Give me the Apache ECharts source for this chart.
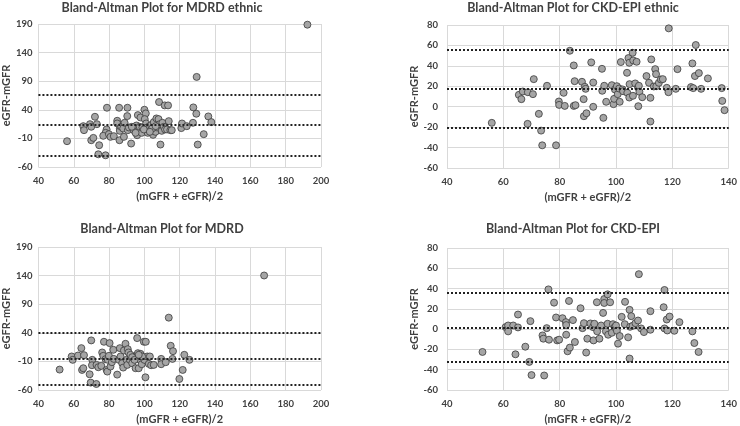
<!DOCTYPE html>
<html>
<head>
<meta charset="utf-8">
<script src="https://cdn.jsdelivr.net/npm/echarts@6/dist/echarts.min.js"></script>
<style>
  html, body { margin: 0; padding: 0; background: #fff; }
  #main { width: 740px; height: 426px; }
</style>
</head>
<body>
<div id="main"></div>
<script>
// panel titles
var titles = [
  'Bland-Altman Plot for MDRD ethnic',
  'Bland-Altman Plot for CKD-EPI ethnic',
  'Bland-Altman Plot for MDRD',
  'Bland-Altman Plot for CKD-EPI'
];

// [mean of mGFR and eGFR, eGFR - mGFR]
var mdrdEthnic = [
  [56.2, -14.9], [65.4, 11.4], [65.8, 4.4], [69.2, 14.9], [69.9, 10.3], [72.0, 27.8], [73.1, 14.9],
  [69.9, -13.2], [71.1, -9.1], [74.4, -21.9], [73.9, -37.8], [78.0, -39.5], [78.6, 5.6], [78.0, -0.3],
  [76.7, -5.5], [78.8, 43.6], [79.9, -2.6], [80.8, -7.3], [82.7, -6.1], [84.6, 20.8], [84.6, 16.1],
  [85.7, 43.6], [86.1, 7.3], [86.1, 3.2], [85.9, -13.2], [86.9, 10.3], [88.0, 7.3], [88.8, 17.3],
  [88.4, -7.3], [90.3, 29.0], [90.4, 43.6], [90.6, 4.4], [91.2, 9.1], [92.5, -19.0], [94.0, 4.4],
  [95.5, 12.6], [95.9, -4.4], [96.3, 30.7], [97.4, 10.3], [97.8, 26.6], [98.5, -0.3], [98.9, 9.1],
  [100.0, 40.1], [100.8, 33.7], [100.2, 23.7], [101.0, 16.1], [101.6, 9.1], [101.9, -0.3], [102.5, 5.6],
  [102.9, 11.4], [103.8, 13.2], [104.9, -3.8], [105.3, 18.5], [105.7, 5.6], [106.3, 1.5], [106.8, 24.9],
  [107.2, 9.1], [108.0, 23.7], [108.3, 53.6], [108.7, 14.9], [109.1, -20.8], [109.8, 3.2], [110.2, 17.3],
  [111.0, 10.3], [111.5, 47.7], [111.7, 5.6], [112.8, 5.6], [113.4, 47.7], [113.8, 20.2], [114.7, 4.4],
  [115.5, 4.4], [120.9, 8.0], [121.3, 16.1], [124.0, 11.4], [127.5, 17.3], [127.7, 44.2], [129.4, 33.1],
  [133.6, -2.6], [130.2, -20.8], [136.2, 28.4], [137.9, 18.5], [129.6, 97.5], [192.3, 188.8],
  [92.9, 10.3], [104.4, 7.3], [99.7, 5.6], [106.4, 11.4], [95.0, -0.3], [103.1, 1.5]
];
var mdrdEthnicLines = [67, 13.2, -40.7];

var ckdEthnic = [
  [55.9, -15.8], [65.5, 11.6], [66.4, 7.4], [66.9, 14.9], [68.7, 14.2], [68.6, -16.8], [70.5, 12.3],
  [70.8, 27.0], [72.6, -7.0], [73.4, -23.4], [73.8, -37.8], [75.5, 20.5], [78.7, -37.8], [79.7, 5.1],
  [79.8, 1.8], [81.4, 13.6], [81.8, 0.8], [83.6, 54.8], [85.0, 40.4], [85.3, 25.0], [85.0, 0.8],
  [85.6, 1.5], [87.9, 24.4], [88.5, 7.4], [88.6, -9.3], [88.9, 19.5], [89.2, 17.5], [89.5, -6.4],
  [91.2, 43.4], [91.9, 23.7], [91.9, -0.1], [95.0, 37.1], [95.1, 15.6], [95.5, -10.9], [95.8, 20.5],
  [96.5, 4.8], [98.5, 21.1], [99.1, 2.5], [99.3, 7.7], [99.6, 16.9], [100.3, 20.1], [100.6, 12.3],
  [101.1, 17.8], [101.3, 4.8], [101.7, 43.7], [102.3, 16.9], [102.5, 15.2], [103.9, 33.2], [104.0, 13.6],
  [104.4, 47.6], [104.7, 43.0], [104.7, 9.0], [104.8, 22.1], [105.9, 52.8], [106.1, 45.3], [106.0, 10.7],
  [106.8, 22.8], [107.3, 44.0], [107.8, 18.8], [107.9, 0.5], [108.1, 20.5], [108.3, 14.6], [109.3, 9.3],
  [110.8, 30.0], [111.7, 23.4], [112.2, 8.7], [112.2, -14.5], [112.5, 46.3], [113.4, 19.8], [113.9, 36.8],
  [114.2, 31.9], [114.3, 20.1], [115.2, 23.4], [115.9, 26.7], [116.6, 27.0], [118.0, 18.5], [118.6, 14.2],
  [118.7, 76.7], [121.2, 17.5], [121.8, 36.8], [126.6, 19.2], [127.1, 42.4], [127.4, 18.2], [128.0, 30.0],
  [128.3, 60.4], [129.4, 32.9], [130.2, 17.5], [132.6, 27.7], [137.5, 18.2], [137.7, 5.7], [138.5, -3.4]
];
var ckdEthnicLines = [55.8, 17.5, -20.7];

var mdrd = [
  [52.0, -24.3], [58.8, -1.4], [59.4, -7.3], [62.4, 0.3], [64.3, 13.2], [64.7, -24.9], [65.4, -21.9],
  [65.8, 0.9], [69.0, -32.5], [69.6, -47.1], [69.9, 26.7], [70.5, -7.3], [70.3, -16.7], [72.8, -49.5],
  [72.9, -16.1], [73.9, -20.2], [75.6, -17.8], [76.1, 5.6], [76.7, -0.3], [77.1, 24.3], [78.0, -6.1],
  [78.6, -24.9], [79.0, -27.8], [79.3, -7.3], [80.3, 22.0], [79.9, -0.3], [80.8, -19.0], [81.6, -11.4],
  [82.4, 10.3], [82.7, -5.6], [84.6, -33.1], [85.6, -7.3], [86.1, 13.2], [86.5, -1.4], [87.4, -13.2],
  [88.0, -20.8], [88.4, 9.1], [89.3, 20.8], [89.9, -7.3], [90.3, -16.1], [90.6, 11.4], [91.0, 5.6],
  [91.8, -7.3], [93.1, -13.2], [94.0, -1.4], [95.0, -21.9], [95.5, -4.4], [95.9, 30.7], [96.3, 4.4],
  [96.8, -21.9], [97.4, -7.3], [97.8, 3.2], [98.5, -14.9], [99.7, 24.3], [100.0, -7.3], [100.8, 24.3],
  [100.6, -37.8], [101.6, -1.4], [102.5, -14.3], [103.1, -1.4], [103.8, -16.7], [105.3, -16.1],
  [109.5, -5.6], [109.5, -14.9], [112.1, -11.4], [113.8, 66.5], [114.9, 17.3], [115.9, -5.6], [116.2, 7.9],
  [119.8, -40.7], [121.7, -24.9], [122.6, 1.5], [125.5, -7.3], [167.8, 140.2],
  [92.1, 1.5], [93.1, -2.6], [94.4, -7.3], [98.7, -1.4], [96.8, 1.5]
];
var mdrdLines = [40.1, -5.6, -51.2];

var ckd = [
  [52.6, -22.5], [60.8, 2.0], [61.7, 3.6], [61.7, -2.2], [63.5, 3.6], [64.3, -24.8], [65.2, 14.4],
  [65.2, 1.7], [67.8, -17.3], [69.2, -32.3], [69.6, 7.9], [70.0, -45.3], [73.9, -6.2], [74.2, -9.4],
  [74.5, -45.7], [75.4, 1.0], [76.0, 39.2], [76.2, -10.4], [78.0, 26.1], [78.7, 11.5], [79.1, -11.1],
  [79.8, -10.4], [81.0, 10.8], [82.2, 6.9], [82.3, 4.0], [82.3, -5.5], [82.8, -21.8], [83.3, 27.8],
  [83.6, -18.2], [84.7, 8.9], [85.4, -12.7], [87.4, 20.6], [88.1, 1.0], [88.6, 5.9], [89.4, -23.1],
  [89.8, -9.4], [90.9, 5.6], [91.8, 2.0], [92.0, -11.1], [92.3, 5.3], [93.2, 26.5], [93.3, -2.2],
  [94.1, -9.4], [94.7, 3.6], [95.4, 16.0], [95.8, 29.7], [95.8, 25.8], [96.4, -2.2], [97.0, 5.3],
  [97.0, 34.3], [97.2, -5.5], [97.9, 26.5], [98.5, -3.6], [98.9, 4.9], [99.5, 2.0], [100.0, 3.6],
  [100.3, -1.6], [100.7, -14.3], [101.3, -6.8], [102.0, 12.1], [103.2, 26.9], [103.1, 4.9], [104.3, -8.1],
  [104.8, 19.0], [105.0, 2.3], [104.8, -29.0], [105.4, 12.8], [105.9, 3.3], [106.9, 5.9], [107.8, 8.5],
  [108.1, 54.2], [108.9, 0.7], [109.9, -2.9], [112.2, 17.7], [112.2, -0.6], [116.9, 21.6], [117.2, 38.6],
  [117.2, 0.7], [118.0, 9.5], [118.2, -1.3], [119.0, 12.4], [120.7, -1.6], [122.5, 6.9], [127.1, -2.2],
  [127.8, -13.7], [129.3, -22.5]
];
var ckdLines = [36.3, 1.7, -31.9];

// axis ranges for the two kinds of panel
var mdrdX = { min: 40, max: 200, interval: 20 };
var mdrdY = { min: -60, max: 190, interval: 50 };
var ckdX = { min: 40, max: 140, interval: 20 };
var ckdY = { min: -60, max: 80, interval: 20 };

var panels = [
  { data: mdrdEthnic, lines: mdrdEthnicLines, x: mdrdX, y: mdrdY },
  { data: ckdEthnic, lines: ckdEthnicLines, x: ckdX, y: ckdY },
  { data: mdrd, lines: mdrdLines, x: mdrdX, y: mdrdY },
  { data: ckd, lines: ckdLines, x: ckdX, y: ckdY }
];

var grids = [
  { left: 38, top: 24, width: 283, height: 143 },
  { left: 447, top: 25, width: 286, height: 143 },
  { left: 38, top: 247, width: 283, height: 143 },
  { left: 447, top: 248, width: 286, height: 143 }
];
var titlePos = [
  { left: 162, top: 1 },
  { left: 573, top: 1 },
  { left: 162, top: 222 },
  { left: 573, top: 222 }
];
// left panels sit closer to the page edge
var yNameGap = [17, 24, 17, 24];
var yLabelMargin = [6, 9, 6, 9];

var FONT = 'Lato';
var gridColor = '#d9d9d9';

var option = {
  animation: false,
  backgroundColor: '#fff',
  title: [],
  grid: [],
  xAxis: [],
  yAxis: [],
  series: []
};

panels.forEach(function (p, i) {
  option.title.push({
    text: titles[i],
    left: titlePos[i].left,
    top: titlePos[i].top,
    padding: 0,
    textAlign: 'center',
    textStyle: { fontFamily: FONT, fontSize: 12.5, fontWeight: 'bold', color: '#404040' }
  });
  option.grid.push(grids[i]);
  option.xAxis.push({
    gridIndex: i,
    type: 'value',
    min: p.x.min,
    max: p.x.max,
    interval: p.x.interval,
    name: '(mGFR + eGFR)/2',
    nameLocation: 'middle',
    nameGap: 24,
    nameTextStyle: { fontFamily: FONT, fontSize: 11, fontWeight: 'bold', color: '#404040' },
    axisLine: { show: false },
    axisTick: { show: false },
    axisLabel: { fontFamily: FONT, fontSize: 9.5, fontWeight: 'bold', color: '#404040', margin: 9 },
    splitLine: { show: true, lineStyle: { color: gridColor, width: 1 } }
  });
  option.yAxis.push({
    gridIndex: i,
    type: 'value',
    min: p.y.min,
    max: p.y.max,
    interval: p.y.interval,
    name: 'eGFR-mGFR',
    nameLocation: 'middle',
    nameGap: yNameGap[i],
    nameTextStyle: { fontFamily: FONT, fontSize: 11, fontWeight: 'bold', color: '#404040' },
    axisLine: { show: false },
    axisTick: { show: false },
    axisLabel: { fontFamily: FONT, fontSize: 9.5, fontWeight: 'bold', color: '#404040', margin: yLabelMargin[i] },
    splitLine: { show: true, lineStyle: { color: gridColor, width: 1 } }
  });
  option.series.push({
    type: 'scatter',
    xAxisIndex: i,
    yAxisIndex: i,
    data: p.data,
    symbol: 'circle',
    symbolSize: 7,
    itemStyle: { color: '#a5a5a5', borderColor: '#3a3a3a', borderWidth: 0.8, opacity: 1 },
    markLine: {
      silent: true,
      symbol: ['none', 'none'],
      label: { show: false },
      lineStyle: { color: '#222', type: [2, 2], width: 2 },
      data: p.lines.map(function (v) { return { yAxis: v }; })
    },
    z: 3
  });
});

var chart = echarts.init(document.getElementById('main'), null, { renderer: 'canvas' });
chart.setOption(option);
</script>
</body>
</html>
